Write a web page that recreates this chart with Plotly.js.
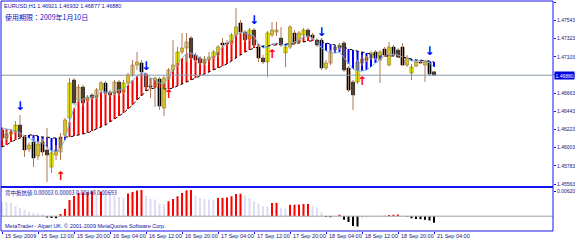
<!DOCTYPE html>
<html><head><meta charset="utf-8">
<script src="https://cdn.plot.ly/plotly-3.0.1.min.js"></script>
<style>html,body{margin:0;padding:0;background:#fff;overflow:hidden}</style>
</head><body><div id="chart" style="width:575px;height:240px"></div>
<script>
const symbolName = "EURUSD,H1";
const expiryText = "使用期限：2009年1月10日";
const indicatorLabel = "背中抵抗値 0.00003 0.00003 0.00148 0.00693";
const footerText = "MetaTrader - Alpari UK, © 2001-2009 MetaQuotes Software Corp.";

const openP = [1.46217,1.46120,1.46169,1.46193,1.46277,1.46132,1.45987,1.46072,1.45902,1.46072,
1.45975,1.45769,1.45914,1.45951,1.46156,1.46362,1.46822,1.46580,1.46737,1.46580,
1.46640,1.46616,1.46701,1.46786,1.46677,1.46664,1.46798,1.46677,1.46786,1.46882,
1.47003,1.47028,1.46895,1.46749,1.46737,1.46834,1.46483,1.46846,1.46943,1.47003,
1.47161,1.47209,1.47330,1.47124,1.47088,1.47028,1.47064,1.47100,1.47124,1.47270,
1.47270,1.47270,1.47366,1.47512,1.47403,1.47318,1.47427,1.47221,1.47088,1.47040,
1.47366,1.47403,1.47330,1.47149,1.47221,1.47391,1.47282,1.47366,1.47427,1.47366,
1.47306,1.47306,1.46967,1.47028,1.47185,1.47209,1.47270,1.46967,1.46798,1.46798,
1.47028,1.47064,1.47088,1.47161,1.47064,1.47197,1.47003,1.47221,1.47185,1.47221,
1.47003,1.46907,1.46991,1.47040,1.47003,1.47040,1.46921];
const highP = [1.46253,1.46205,1.46229,1.46326,1.46398,1.46156,1.46072,1.46120,1.46084,1.46108,
1.46241,1.45975,1.46035,1.46181,1.46362,1.46846,1.46846,1.46774,1.46761,1.46640,
1.46664,1.46725,1.46810,1.46810,1.46701,1.46822,1.46822,1.46822,1.46907,1.47064,
1.47161,1.47064,1.46907,1.46846,1.46858,1.46858,1.46870,1.46967,1.47306,1.47221,
1.47391,1.47391,1.47354,1.47149,1.47112,1.47112,1.47161,1.47185,1.47245,1.47330,
1.47306,1.47391,1.47693,1.47548,1.47427,1.47451,1.47451,1.47245,1.47124,1.47415,
1.47524,1.47524,1.47463,1.47245,1.47487,1.47427,1.47415,1.47451,1.47451,1.47391,
1.47330,1.47330,1.47064,1.47185,1.47245,1.47270,1.47294,1.46991,1.46822,1.47064,
1.47124,1.47112,1.47173,1.47185,1.47185,1.47221,1.47282,1.47245,1.47209,1.47270,
1.47124,1.47016,1.47064,1.47052,1.47064,1.47064,1.46932];
const lowP = [1.46084,1.46096,1.46132,1.46181,1.46108,1.45890,1.45951,1.45769,1.45854,1.45902,
1.45588,1.45697,1.45854,1.45854,1.46132,1.46302,1.46519,1.46556,1.46507,1.46556,
1.46580,1.46592,1.46677,1.46640,1.46616,1.46640,1.46628,1.46652,1.46761,1.46858,
1.46943,1.46895,1.46701,1.46604,1.46495,1.46459,1.46386,1.46822,1.46919,1.46979,
1.47137,1.47040,1.47064,1.47040,1.47003,1.47003,1.47040,1.47076,1.47100,1.47209,
1.47233,1.47245,1.47342,1.47379,1.47282,1.47294,1.47221,1.47040,1.47016,1.46858,
1.47342,1.47354,1.47221,1.46979,1.47197,1.47245,1.47258,1.47342,1.47330,1.47306,
1.47221,1.46943,1.46943,1.47003,1.47161,1.47185,1.46919,1.46677,1.46459,1.46774,
1.46991,1.47040,1.47064,1.47064,1.46786,1.47100,1.46991,1.47100,1.47088,1.46991,
1.46979,1.46822,1.46979,1.47016,1.46798,1.46870,1.46877];
const closeP = [1.46120,1.46169,1.46193,1.46277,1.46132,1.45975,1.46035,1.45878,1.46048,1.45951,
1.45914,1.45939,1.45975,1.46132,1.46338,1.46786,1.46544,1.46737,1.46544,1.46616,
1.46604,1.46701,1.46786,1.46664,1.46640,1.46798,1.46664,1.46786,1.46882,1.47003,
1.47040,1.46919,1.46737,1.46737,1.46846,1.46507,1.46846,1.46943,1.47003,1.47161,
1.47209,1.47282,1.47088,1.47064,1.47028,1.47076,1.47100,1.47161,1.47221,1.47245,
1.47258,1.47366,1.47463,1.47403,1.47306,1.47427,1.47245,1.47088,1.47040,1.47391,
1.47427,1.47427,1.47245,1.47221,1.47463,1.47270,1.47391,1.47427,1.47342,1.47330,
1.47245,1.46967,1.47028,1.47149,1.47221,1.47245,1.46943,1.46701,1.46640,1.47040,
1.47076,1.47088,1.47149,1.47088,1.47161,1.47124,1.47221,1.47124,1.47100,1.47003,
1.47088,1.46979,1.47040,1.47028,1.47040,1.46895,1.46880];

const fastLine = [1.46241,1.46229,1.46217,1.46205,1.46181,1.46144,1.46120,1.46084,1.46072,1.46060,
1.46011,1.45963,1.45951,1.45999,1.46096,1.46314,1.46483,1.46568,1.46592,1.46604,
1.46616,1.46640,1.46677,1.46677,1.46664,1.46689,1.46701,1.46713,1.46761,1.46822,
1.46870,1.46907,1.46907,1.46846,1.46822,1.46786,1.46774,1.46858,1.46943,1.47028,
1.47088,1.47137,1.47149,1.47124,1.47088,1.47064,1.47076,1.47112,1.47161,1.47221,
1.47270,1.47306,1.47366,1.47403,1.47391,1.47379,1.47354,1.47258,1.47209,1.47221,
1.47258,1.47270,1.47258,1.47233,1.47258,1.47282,1.47306,1.47342,1.47354,1.47330,
1.47282,1.47209,1.47173,1.47149,1.47149,1.47161,1.47088,1.47016,1.46955,1.46931,
1.46931,1.46943,1.46979,1.47028,1.47076,1.47112,1.47124,1.47137,1.47124,1.47100,
1.47088,1.47052,1.47052,1.47052,1.47052,1.47028,1.46979];
const slowLine = [1.46011,1.46035,1.46072,1.46096,1.46120,1.46144,1.46156,1.46156,1.46144,1.46132,
1.46132,1.46120,1.46120,1.46120,1.46132,1.46132,1.46144,1.46156,1.46169,1.46181,
1.46205,1.46229,1.46253,1.46277,1.46314,1.46350,1.46386,1.46422,1.46471,1.46519,
1.46580,1.46628,1.46689,1.46713,1.46725,1.46725,1.46713,1.46713,1.46725,1.46749,
1.46774,1.46798,1.46822,1.46846,1.46870,1.46895,1.46919,1.46943,1.46967,1.46991,
1.47016,1.47052,1.47088,1.47124,1.47161,1.47185,1.47209,1.47221,1.47233,1.47233,
1.47245,1.47245,1.47258,1.47258,1.47258,1.47258,1.47270,1.47282,1.47294,1.47294,
1.47294,1.47282,1.47270,1.47258,1.47245,1.47233,1.47221,1.47197,1.47185,1.47173,
1.47161,1.47149,1.47137,1.47124,1.47112,1.47112,1.47112,1.47112,1.47100,1.47100,
1.47088,1.47076,1.47064,1.47064,1.47052,1.47052,1.47040];

const histValues = [0.00356,0.00352,0.00327,0.00253,0.00203,0.00154,0.00104,0.00079,0.00072,0.00055,
-0.00032,-0.00045,-0.00050,0.00055,0.00179,0.00402,0.00501,0.00575,0.00588,0.00600,
0.00613,0.00551,0.00610,0.00551,0.00526,0.00501,0.00476,0.00464,0.00563,0.00600,
0.00637,0.00650,0.00501,0.00427,0.00414,0.00315,0.00303,0.00370,0.00427,0.00494,
0.00575,0.00642,0.00650,0.00508,0.00451,0.00427,0.00414,0.00402,0.00451,0.00456,
0.00464,0.00494,0.00551,0.00556,0.00508,0.00451,0.00370,0.00310,0.00246,0.00241,
0.00327,0.00332,0.00203,0.00191,0.00283,0.00285,0.00288,0.00303,0.00305,0.00246,
0.00203,0.00097,-0.00020,-0.00025,-0.00002,0.00037,-0.00087,-0.00144,-0.00243,-0.00255,
-0.00045,-0.00032,-0.00015,-0.00007,-0.00002,0.00010,0.00030,0.00037,0.00042,0.00012,
-0.00010,-0.00052,-0.00069,-0.00074,-0.00089,-0.00107,-0.00161];

const downArrowBars = [4, 32, 56, 71, 95];
const downArrowPrices = [1.46495, 1.46979, 1.47536, 1.47391, 1.47161];
const upArrowBars = [13, 37, 60, 80];
const upArrowPrices = [1.45648, 1.46640, 1.47124, 1.46798];

const timeTickBars = [0, 8, 16, 24, 32, 40, 48, 56, 64, 72, 80, 88, 96];
const timeTickLabels = ["15 Sep 2009","15 Sep 12:00","15 Sep 20:00","16 Sep 04:00","16 Sep 12:00",
"16 Sep 20:00","17 Sep 04:00","17 Sep 12:00","17 Sep 20:00","18 Sep 04:00","18 Sep 12:00",
"18 Sep 20:00","21 Sep 04:00"];
const priceTicks = [1.45563,1.45783,1.46003,1.46223,1.46443,1.46663,1.46883,1.47103,1.47323,1.47543,1.47763];
const histTicks = [0.0062];
const histTickLabels = ["0.00620"];

// ---- build traces ----
const n = openP.length;
const last = n - 1;
const bars = openP.map((_, i) => i);
const currentPrice = closeP[last];

const wickX = [], wickY = [];
bars.forEach(i => { wickX.push(i, i, null); wickY.push(lowP[i], highP[i], null); });

const minBody = 0.00008;
const upIdx = bars.filter(i => closeP[i] >= openP[i]);
const dnIdx = bars.filter(i => closeP[i] < openP[i]);

const redX = [], redY = [], blueX = [], blueY = [];
bars.forEach(i => {
  const f = fastLine[i], s = slowLine[i];
  if (f > s) { redX.push(i, i, null); redY.push(f, s, null); }
  else if (f < s) { blueX.push(i, i, null); blueY.push(f, s, null); }
});

const RED = '#ff0000', LAV = '#dcdcf4', BLK = '#000000';
const histColors = histValues.map((v, i) => {
  const p = i > 0 ? histValues[i - 1] : Infinity;
  if (v >= 0) return v >= p ? RED : LAV;
  return v <= p ? BLK : LAV;
});

const traces = [
  {type:'scatter', mode:'lines', x:redX, y:redY, line:{color:'#ff0000', width:2}, connectgaps:false},
  {type:'scatter', mode:'lines', x:blueX, y:blueY, line:{color:'#0000ff', width:2}, connectgaps:false},
  {type:'scatter', mode:'lines', x:bars, y:fastLine, line:{color:'#7ab8f0', width:1}},
  {type:'scatter', mode:'lines', x:bars, y:slowLine, line:{color:'#000000', width:1, dash:'dot'}},
  {type:'scatter', mode:'lines', x:wickX, y:wickY, line:{color:'#b07a58', width:1}, connectgaps:false},
  {type:'bar', x:upIdx, base:upIdx.map(i => openP[i]),
   y:upIdx.map(i => Math.max(closeP[i] - openP[i], minBody)), width:0.7,
   marker:{color:'#ffff00', line:{color:'#8c7a1e', width:0.7}}},
  {type:'bar', x:dnIdx, base:dnIdx.map(i => closeP[i]),
   y:dnIdx.map(i => Math.max(openP[i] - closeP[i], minBody)), width:0.7,
   marker:{color:'#000000', line:{color:'#000000', width:0.5}}},
  {type:'scatter', mode:'text', x:downArrowBars, y:downArrowPrices, text:downArrowBars.map(() => '↓'),
   textfont:{family:'DejaVu Sans', size:12, color:'#0000ff', weight:'bold'}, cliponaxis:false},
  {type:'scatter', mode:'text', x:upArrowBars, y:upArrowPrices, text:upArrowBars.map(() => '↑'),
   textfont:{family:'DejaVu Sans', size:12, color:'#ff0000', weight:'bold'}, cliponaxis:false},
  {type:'bar', x:bars, y:histValues, width:0.45, marker:{color:histColors}, xaxis:'x', yaxis:'y2'}
];

// layout geometry (pixels -> paper)
const plotTop = 1, plotBottom = 231, plotLeft = 1, plotRight = 553;
const H = plotBottom - plotTop, W = plotRight - plotLeft;
const py = px => (plotBottom - px) / H;
const pxp = px => (px - plotLeft) / W;
const sepY = py(187);
const blue = '#1414f0';
const txt = '#14147a';

const dateAnnotations = timeTickBars.map((b, k) => ({
  xref:'x', yref:'paper', x:b, y:py(236), xanchor:'left', yanchor:'middle', xshift:1,
  showarrow:false, text:timeTickLabels[k], font:{family:'Liberation Sans', size:5.5, color:txt}
}));

const layout = {
  width:575, height:240,
  margin:{l:plotLeft, r:575 - plotRight, t:plotTop, b:240 - plotBottom, pad:0},
  paper_bgcolor:'#ffffff', plot_bgcolor:'#ffffff',
  showlegend:false, hovermode:false, barmode:'overlay',
  font:{family:'Liberation Sans', size:5, color:txt},
  xaxis:{range:[-0.222, 122.444], anchor:'y2', showgrid:false, zeroline:false, showline:false,
    tickmode:'array', tickvals:timeTickBars, ticks:'outside', ticklen:2,
    tickcolor:blue, showticklabels:false, fixedrange:true},
  yaxis:{domain:[sepY, 1], range:[1.45527, 1.47778], side:'right', showgrid:false, zeroline:false,
    showline:false, tickmode:'array', tickvals:priceTicks, ticktext:priceTicks.map(v => v.toFixed(5)),
    ticks:'outside', ticklen:2, tickcolor:blue, tickfont:{family:'Liberation Sans', size:5, color:txt}, fixedrange:true},
  yaxis2:{domain:[0, sepY], range:[-0.00367, 0.00724], side:'right', showgrid:false, zeroline:false,
    showline:false, tickmode:'array', tickvals:histTicks, ticktext:histTickLabels,
    ticks:'outside', ticklen:2, tickcolor:blue, tickfont:{family:'Liberation Sans', size:5, color:txt}, fixedrange:true},
  shapes:[
    {type:'line', xref:'paper', yref:'y', x0:0, x1:1, y0:currentPrice, y1:currentPrice, line:{color:'#8898a8', width:1}},
    {type:'line', xref:'paper', yref:'y2', x0:0, x1:1, y0:0, y1:0, line:{color:'#a0a0a8', width:1}},
    {type:'rect', xref:'paper', yref:'paper', x0:0, x1:1, y0:0, y1:1, line:{color:blue, width:1}},
    {type:'line', xref:'paper', yref:'paper', x0:0, x1:1, y0:sepY, y1:sepY, line:{color:blue, width:2}}
  ],
  annotations:[
    {xref:'paper', yref:'paper', x:pxp(2), y:py(6), xanchor:'left', yanchor:'middle', showarrow:false,
     text:symbolName + ' ' + [openP[last], highP[last], lowP[last], closeP[last]].map(v => v.toFixed(5)).join(' '),
     font:{family:'Liberation Sans', size:5.5, color:'#1010a0'}},
    {xref:'paper', yref:'paper', x:pxp(3), y:py(17), xanchor:'left', yanchor:'middle', showarrow:false,
     text:expiryText, font:{family:'Noto Sans CJK JP', size:7, color:'#1010c0'}},
    {xref:'paper', yref:'paper', x:pxp(3), y:py(193), xanchor:'left', yanchor:'middle', showarrow:false,
     text:indicatorLabel, font:{family:'Noto Sans CJK JP', size:5.5, color:'#1010a0'}},
    {xref:'paper', yref:'paper', x:pxp(3), y:py(225.5), xanchor:'left', yanchor:'middle', showarrow:false,
     text:footerText, font:{family:'Liberation Sans', size:5.5, color:'#1010a0'}},
    {xref:'paper', yref:'y', x:1, y:currentPrice, xanchor:'left', yanchor:'middle', showarrow:false,
     xshift:1, text:currentPrice.toFixed(5), bgcolor:'#0000e0', borderpad:0.5,
     font:{family:'Liberation Sans', size:5, color:'#ffffff'}}
  ].concat(dateAnnotations)
};

Plotly.newPlot('chart', traces, layout, {staticPlot:true, displayModeBar:false});
</script>
</body></html>
